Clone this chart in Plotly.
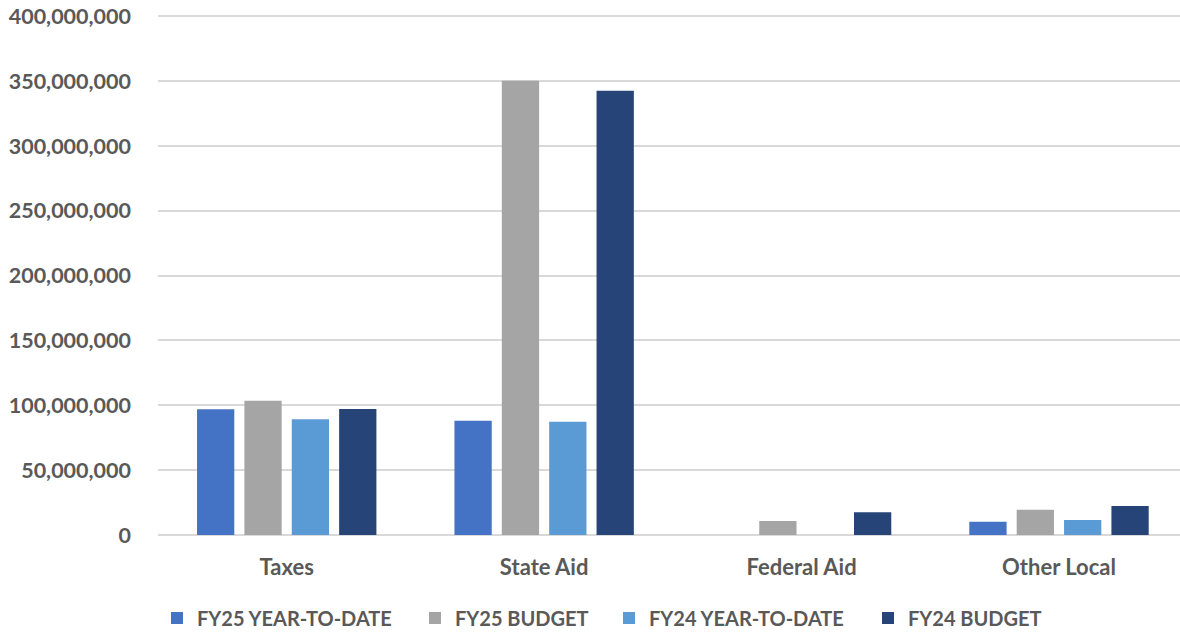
import plotly.graph_objects as go

categories = ["Taxes", "State Aid", "Federal Aid", "Other Local"]
fy25_ytd = [97_000_000, 88_200_000, 0, 10_300_000]
fy25_budget = [103_600_000, 350_300_000, 10_800_000, 19_500_000]
fy24_ytd = [89_300_000, 87_400_000, 0, 11_600_000]
fy24_budget = [97_200_000, 342_600_000, 17_500_000, 22_400_000]

series = [
    ("FY25 YEAR-TO-DATE", fy25_ytd, "#4472C4"),
    ("FY25 BUDGET", fy25_budget, "#A5A5A5"),
    ("FY24 YEAR-TO-DATE", fy24_ytd, "#5B9BD5"),
    ("FY24 BUDGET", fy24_budget, "#264478"),
]
tick_vals = list(range(0, 400_000_001, 50_000_000))
tick_text = [f"{v:,}" for v in tick_vals]
y_max = 401_000_000

W, H = 1180, 632
L, R, T = 158, 0, 15
plot_w = W - L - R
plot_h = 520
B = H - T - plot_h

font_family = "Lato, 'Open Sans', sans-serif"
legend_text_starts = [195, 453, 647, 906]  # px where each legend label begins
legend_names = ["legend", "legend2", "legend3", "legend4"]

fig = go.Figure()
for (name, vals, color), lg in zip(series, legend_names):
    fig.add_trace(go.Bar(
        x=categories, y=vals, name=name, legend=lg,
        marker=dict(color=color, line=dict(width=0)),
    ))

legend_layout = {}
for lg, tx in zip(legend_names, legend_text_starts):
    legend_layout[lg] = dict(
        orientation="h",
        x=(tx - 38 - L) / plot_w, xanchor="left",
        y=(T + plot_h - 618) / plot_h, yanchor="middle",
        font=dict(family=font_family, size=20, color="#595959", weight="bold"),
        itemwidth=30, bgcolor="rgba(0,0,0,0)", borderwidth=0,
    )

fig.update_layout(
    width=W, height=H,
    margin=dict(l=L, r=R, t=T, b=B, autoexpand=False),
    paper_bgcolor="white", plot_bgcolor="white",
    barmode="group", bargap=0.264, bargroupgap=0.213,
    font=dict(family=font_family, size=17, color="#595959"),
    showlegend=True,
    xaxis=dict(
        range=[-0.5, 3.47],
        showgrid=False, showline=False, ticks="", automargin=False,
        ticklabelstandoff=17,
        tickfont=dict(family=font_family, size=22, color="#595959", weight="bold"),
    ),
    yaxis=dict(
        range=[0, y_max], tickvals=tick_vals, ticktext=tick_text,
        showgrid=True, gridcolor="#D9D9D9", gridwidth=1.5,
        zeroline=True, zerolinecolor="#D9D9D9", zerolinewidth=1.5,
        ticks="", ticklabelstandoff=26, automargin=False,
        tickfont=dict(family=font_family, size=21.5, color="#595959", weight="bold"),
    ),
    **legend_layout,
)

fig.write_html(
    "out.html",
    config={"displayModeBar": False},
    post_script="document.body.style.margin='0';document.body.style.overflow='hidden';",
)
